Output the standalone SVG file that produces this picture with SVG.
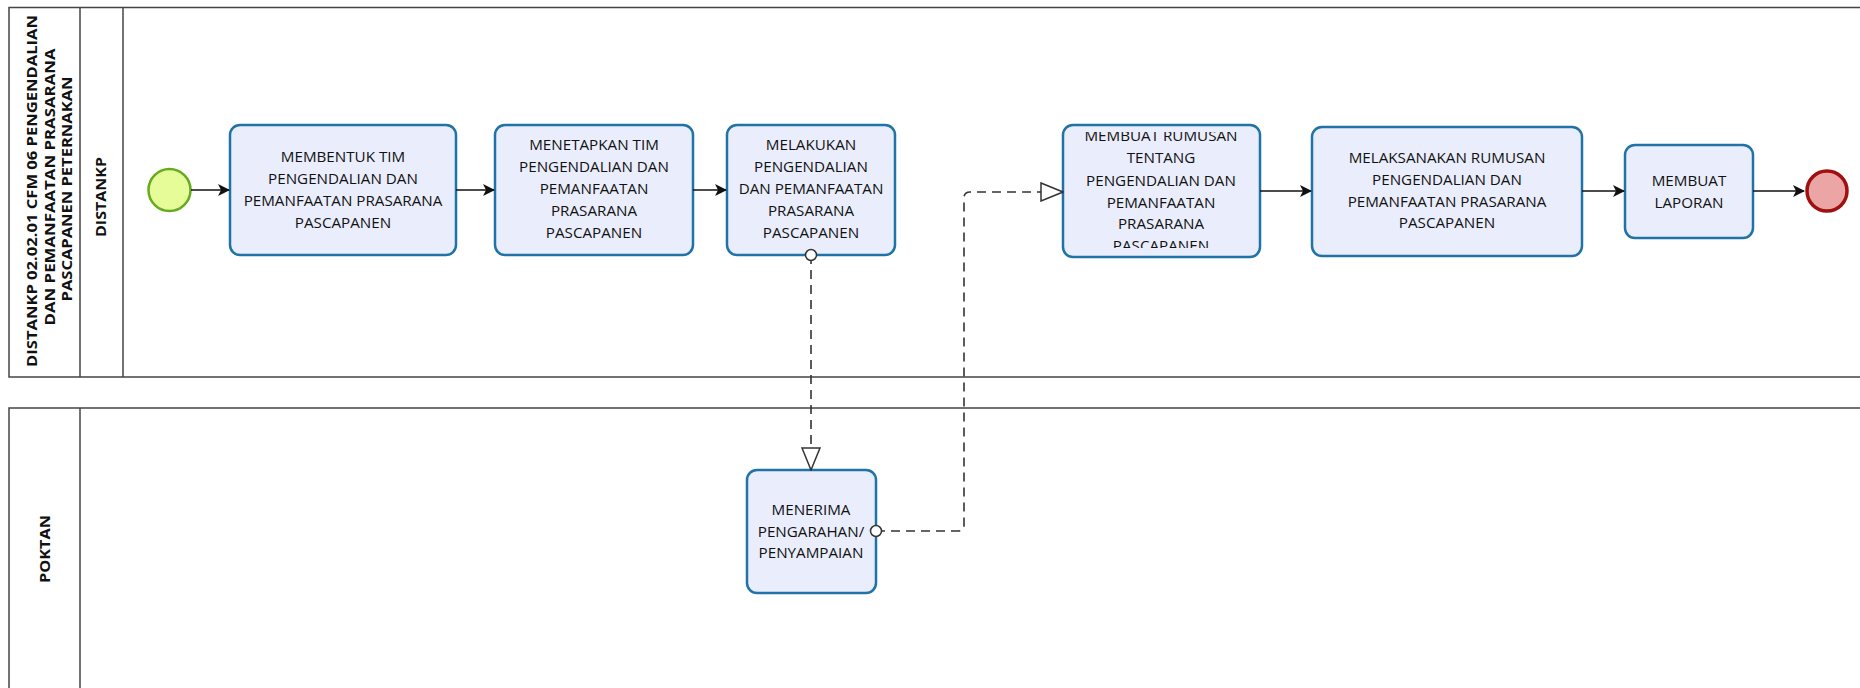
<svg xmlns="http://www.w3.org/2000/svg" width="1860" height="688" viewBox="0 0 1860 688">
<style>
.pool{fill:#fff;stroke:#444;stroke-width:1.5}
.div{stroke:#444;stroke-width:1.5}
.task{fill:#EAEEFC;stroke:#1F73A6;stroke-width:2.5}
.t{font-family:"Open Sans","DejaVu Sans",sans-serif;font-size:15.2px;fill:#111;text-anchor:middle}
.h{font-family:"Open Sans","DejaVu Sans",sans-serif;font-size:15px;font-weight:bold;fill:#111;text-anchor:middle}
.seq{fill:none;stroke:#111;stroke-width:1.6}
.msg{fill:none;stroke:#333;stroke-width:1.6;stroke-dasharray:9 6}
</style>
<defs>
<marker id="arr" viewBox="0 0 12 12" refX="11" refY="6" markerWidth="12" markerHeight="12" markerUnits="userSpaceOnUse" orient="auto">
<path d="M0,0 L12,6 L0,12 L3,6 Z" fill="#111"/>
</marker>
<marker id="open" viewBox="0 0 24 20" refX="23" refY="10" markerWidth="24" markerHeight="20" markerUnits="userSpaceOnUse" orient="auto">
<path d="M1,1 L23,10 L1,19 Z" fill="#fff" stroke="#333" stroke-width="1.5"/>
</marker>
<marker id="circ" viewBox="0 0 14 14" refX="7" refY="7" markerWidth="14" markerHeight="14" markerUnits="userSpaceOnUse">
<circle cx="7" cy="7" r="5.5" fill="#fff" stroke="#333" stroke-width="1.5"/>
</marker>
<clipPath id="c4"><rect x="1063" y="132" width="197" height="116"/></clipPath>
</defs>

<g id="pool-distankp">
<rect class="pool" x="9" y="7.5" width="1860" height="369.5"/>
<line class="div" x1="80" y1="7.5" x2="80" y2="377"/>
<line class="div" x1="123" y1="7.5" x2="123" y2="377"/>
<text class="h" transform="translate(37,191) rotate(-90)" textLength="352" lengthAdjust="spacingAndGlyphs">DISTANKP 02.02.01 CFM 06 PENGENDALIAN</text>
<text class="h" transform="translate(55,187) rotate(-90)" textLength="277" lengthAdjust="spacingAndGlyphs">DAN PEMANFAATAN PRASARANA</text>
<text class="h" transform="translate(72,189) rotate(-90)" textLength="225" lengthAdjust="spacingAndGlyphs">PASCAPANEN PETERNAKAN</text>
<text class="h" transform="translate(106,197) rotate(-90)" textLength="80" lengthAdjust="spacingAndGlyphs">DISTANKP</text>
</g>

<g id="pool-poktan">
<rect class="pool" x="9" y="408" width="1860" height="290"/>
<line class="div" x1="80" y1="408" x2="80" y2="698"/>
<text class="h" transform="translate(50,549) rotate(-90)" textLength="68" lengthAdjust="spacingAndGlyphs">POKTAN</text>
</g>

<g id="start">
<circle cx="169.5" cy="190" r="21" fill="#E6FC98" stroke="#66AA1E" stroke-width="2.5"/>
</g>

<g id="task1">
<rect class="task" x="230" y="125" width="226" height="130" rx="10"/>
<text class="t" x="343" y="162">MEMBENTUK TIM</text>
<text class="t" x="343" y="184">PENGENDALIAN DAN</text>
<text class="t" x="343" y="206">PEMANFAATAN PRASARANA</text>
<text class="t" x="343" y="228">PASCAPANEN</text>
</g>

<g id="task2">
<rect class="task" x="495" y="125" width="198" height="130" rx="10"/>
<text class="t" x="594" y="150">MENETAPKAN TIM</text>
<text class="t" x="594" y="172">PENGENDALIAN DAN</text>
<text class="t" x="594" y="194">PEMANFAATAN</text>
<text class="t" x="594" y="216">PRASARANA</text>
<text class="t" x="594" y="238">PASCAPANEN</text>
</g>

<g id="task3">
<rect class="task" x="727" y="125" width="168" height="130" rx="10"/>
<text class="t" x="811" y="150">MELAKUKAN</text>
<text class="t" x="811" y="172">PENGENDALIAN</text>
<text class="t" x="811" y="194">DAN PEMANFAATAN</text>
<text class="t" x="811" y="216">PRASARANA</text>
<text class="t" x="811" y="238">PASCAPANEN</text>
</g>

<g id="task4">
<rect class="task" x="1063" y="125" width="197" height="132" rx="10"/>
<g clip-path="url(#c4)">
<text class="t" x="1161" y="141">MEMBUAT RUMUSAN</text>
<text class="t" x="1161" y="163">TENTANG</text>
<text class="t" x="1161" y="186">PENGENDALIAN DAN</text>
<text class="t" x="1161" y="208">PEMANFAATAN</text>
<text class="t" x="1161" y="229">PRASARANA</text>
<text class="t" x="1161" y="251">PASCAPANEN</text>
</g>
</g>

<g id="task5">
<rect class="task" x="1312" y="127" width="270" height="129" rx="10"/>
<text class="t" x="1447" y="163">MELAKSANAKAN RUMUSAN</text>
<text class="t" x="1447" y="185">PENGENDALIAN DAN</text>
<text class="t" x="1447" y="207">PEMANFAATAN PRASARANA</text>
<text class="t" x="1447" y="228">PASCAPANEN</text>
</g>

<g id="task6">
<rect class="task" x="1625" y="145" width="128" height="93" rx="10"/>
<text class="t" x="1689" y="186">MEMBUAT</text>
<text class="t" x="1689" y="208">LAPORAN</text>
</g>

<g id="end">
<circle cx="1827" cy="191" r="20" fill="#EBA5A5" stroke="#A01010" stroke-width="3.5"/>
</g>

<g id="task7">
<rect class="task" x="747" y="470" width="129" height="123" rx="10"/>
<text class="t" x="811" y="515">MENERIMA</text>
<text class="t" x="811" y="537">PENGARAHAN/</text>
<text class="t" x="811" y="558">PENYAMPAIAN</text>
</g>

<g id="connectors">
<line class="seq" x1="191" y1="190" x2="229" y2="190" marker-end="url(#arr)"/>
<line class="seq" x1="456" y1="190" x2="494" y2="190" marker-end="url(#arr)"/>
<line class="seq" x1="693" y1="190" x2="726" y2="190" marker-end="url(#arr)"/>
<line class="seq" x1="1260" y1="191" x2="1311" y2="191" marker-end="url(#arr)"/>
<line class="seq" x1="1582" y1="191" x2="1624" y2="191" marker-end="url(#arr)"/>
<line class="seq" x1="1753" y1="191" x2="1804" y2="191" marker-end="url(#arr)"/>
<path class="msg" d="M811,255 L811,470" marker-start="url(#circ)" marker-end="url(#open)"/>
<path class="msg" d="M876,531 L958,531 Q964,531 964,525 L964,198 Q964,192 970,192 L1063,192" marker-start="url(#circ)" marker-end="url(#open)"/>
</g>
</svg>
